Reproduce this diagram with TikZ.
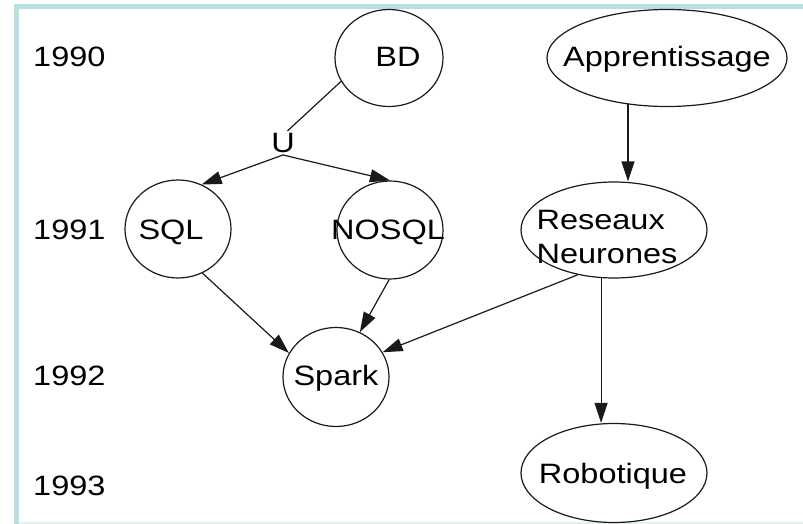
\documentclass[tikz,border=0pt]{standalone}
\usepackage{fontspec}
\setmainfont{Liberation Sans}[FakeStretch=1.16]
\usetikzlibrary{shapes.geometric,arrows.meta}
\definecolor{bordercol}{HTML}{B9DFE2}
\definecolor{faintcol}{HTML}{E4EFEF}
\definecolor{inkcol}{HTML}{1A1A1A}
\tikzset{
  ell/.style={ellipse, draw=inkcol, line width=1.2pt, inner sep=0pt},
  lbl/.style={font=\fontsize{28}{34}\selectfont, inner sep=0pt, text=black},
  link/.style={draw=inkcol, line width=1.2pt},
  arr/.style={link, -{Triangle[length=20pt,width=13pt]}}
}
\begin{document}
\begin{tikzpicture}[x=1pt,y=-1pt]
\useasboundingbox (0,0) rectangle (803,524);
\fill[white] (0,0) rectangle (803,524);
% frame
\draw[faintcol, line width=2pt] (19,522.5) -- (803,522.5);
\draw[bordercol, line width=5pt] (803,6.5) -- (16.5,6.5) -- (16.5,524);

% ellipses
\node[ell, minimum width=108pt, minimum height=97pt] (bd) at (389,58) {};
\node[ell, minimum width=240pt, minimum height=97pt] (appr) at (667,58) {};
\node[ell, minimum width=106pt, minimum height=98pt] (sql) at (178,229) {};
\node[ell, minimum width=106pt, minimum height=98pt] (nosql) at (390,230) {};
\node[ell, minimum width=186pt, minimum height=96pt] (res) at (614,230) {};
\node[ell, minimum width=106pt, minimum height=99pt] (spark) at (336,377) {};
\node[ell, minimum width=186pt, minimum height=99pt] (rob) at (614,473) {};

% labels
\node[lbl, anchor=base] (bdt) at (398,67) {BD};
\node[lbl, anchor=base] (apprt) at (667,67) {Apprentissage};
\node[lbl, anchor=base] (sqlt) at (171,239) {SQL};
\node[lbl, anchor=base] (nosqlt) at (388,239) {NOSQL};
\node[lbl, anchor=center, align=left] (rest) at (607,237) {Reseaux\\Neurones};
\node[lbl, anchor=base] (sparkt) at (336,385) {Spark};
\node[lbl, anchor=base] (robt) at (613,483) {Robotique};
\node[lbl, inner sep=2pt] (u) at (283,143) {U};

% years
\node[lbl, anchor=base west] (y90) at (33,67) {1990};
\node[lbl, anchor=base west] (y91) at (33,239) {1991};
\node[lbl, anchor=base west] (y92) at (33,385) {1992};
\node[lbl, anchor=base west] (y93) at (33,495) {1993};

% connectors
\draw[link] (bd.206) -- (u.70);
\draw[arr] (u.south) -- (sql.62);
\draw[arr] (u.south) -- (nosql.north);
\draw[arr] (sql.-61) -- (spark.153);
\draw[arr] (nosql.-91) -- (spark.62);
\draw[arr] (res.231) -- (spark.28);
\draw[arr] (appr.230) -- (appr.230 |- res.north);
\draw[arr] (res.-105) -- (res.-105 |- rob.north);
\end{tikzpicture}
\end{document}
